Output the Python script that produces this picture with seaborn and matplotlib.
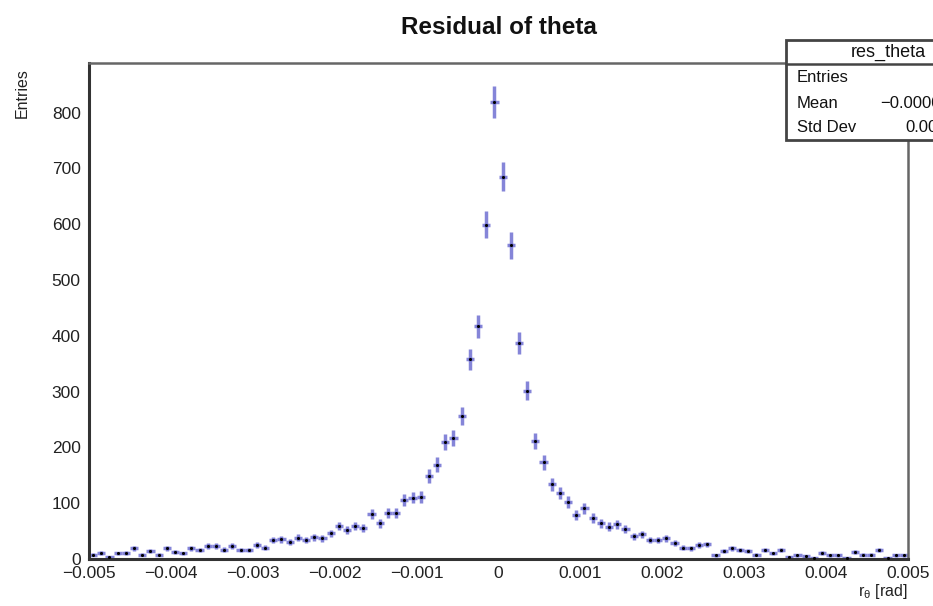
import numpy as np
import pandas as pd
import seaborn as sns
import matplotlib.pyplot as plt
from matplotlib.patches import Rectangle
from matplotlib.lines import Line2D
from matplotlib.ticker import MultipleLocator, FuncFormatter

# histogram "res_theta": 100 bins between -0.005 and 0.005 rad
x_min, x_max, n_bins = -0.005, 0.005, 100
counts = [
    8, 11, 4, 10, 11, 19, 8, 14, 8, 19,
    13, 10, 19, 16, 23, 23, 17, 23, 16, 16,
    25, 20, 34, 35, 31, 38, 34, 39, 37, 46,
    59, 52, 59, 55, 81, 64, 83, 83, 106, 110,
    111, 149, 169, 209, 217, 257, 358, 417, 599, 819,
    685, 562, 388, 302, 211, 173, 134, 118, 102, 79,
    91, 74, 64, 58, 62, 53, 41, 44, 34, 34,
    37, 28, 20, 19, 25, 26, 7, 14, 19, 16,
    14, 8, 16, 10, 16, 4, 7, 5, 2, 11,
    7, 7, 2, 13, 8, 8, 16, 2, 7, 7,
]
y_ticks = [0, 100, 200, 300, 400, 500, 600, 700, 800]
x_ticks = [-0.005, -0.004, -0.003, -0.002, -0.001, 0, 0.001, 0.002, 0.003, 0.004, 0.005]
stats_title = "res_theta"
stats_rows = ["Entries", "Mean", "Std Dev"]
stats_vals = ["", "\u22120.0000183", "0.000915"]

edges = np.linspace(x_min, x_max, n_bins + 1)
df = pd.DataFrame({
    "center": 0.5 * (edges[:-1] + edges[1:]),
    "entries": counts,
})
df["err"] = np.sqrt(df["entries"])
half_w = 0.5 * (x_max - x_min) / n_bins

sns.set_theme(style="white")
plt.rcParams["font.family"] = ["Liberation Sans", "DejaVu Sans"]
plt.rcParams["mathtext.fontset"] = "custom"
plt.rcParams["mathtext.rm"] = "Liberation Sans"
plt.rcParams["mathtext.it"] = "Liberation Sans"

fig = plt.figure(figsize=(9.33, 6.06), dpi=100)
ax = fig.add_axes([89 / 933, 47 / 606, 819 / 933, 496 / 606])

# error bars (sqrt(N) vertical, bin width horizontal)
ax.errorbar(df["center"], df["entries"], yerr=df["err"], xerr=half_w,
            fmt="none", ecolor="#5c5ccc", elinewidth=2.5, alpha=0.75, capsize=0, zorder=2)
sns.scatterplot(data=df, x="center", y="entries", ax=ax, color="black",
                s=5, linewidth=0, zorder=3)

ax.set_xlim(x_min, x_max)
ax.set_ylim(0, 889)
ax.set_xticks(x_ticks)
ax.set_yticks(y_ticks)
ax.xaxis.set_minor_locator(MultipleLocator(0.0002))
ax.yaxis.set_minor_locator(MultipleLocator(20))
ax.xaxis.set_major_formatter(FuncFormatter(
    lambda v, _: "0" if abs(v) < 1e-12 else f"{v:.3f}".replace("-", "\u2212")))

ax.tick_params(axis="y", which="major", direction="in", length=18, width=1.8,
               color="#555555", labelsize=12.5, pad=6, labelcolor="#222222")
ax.tick_params(axis="y", which="minor", direction="in", length=9, width=1.8, color="#555555")
ax.tick_params(axis="x", which="major", direction="in", length=10, width=1.8,
               color="#555555", labelsize=12.5, pad=5, labelcolor="#222222")
ax.tick_params(axis="x", which="minor", direction="in", length=4, width=1.8, color="#555555")

for side in ["left", "bottom"]:
    ax.spines[side].set_color("#333333")
    ax.spines[side].set_linewidth(2.2)
for side in ["top", "right"]:
    ax.spines[side].set_color("#666666")
    ax.spines[side].set_linewidth(1.8)

ax.set_xlabel(r"r$_{\theta}$ [rad]", fontsize=11.5, loc="right", color="#222222")
ax.xaxis.set_label_coords(1.0, -0.047)
ax.set_ylabel("Entries", fontsize=11.5, loc="top", color="#222222")
ax.yaxis.set_label_coords(-0.072, 0.99)
ax.set_title("Residual of theta", fontsize=17.5, fontweight="bold", pad=21, color="#111111")

# ROOT stats box, partly beyond the right edge of the canvas
bx0, by0, bx1, by1, hy = 786, 40, 990, 140, 64
fig.patches.append(Rectangle((bx0 / 933, 1 - by1 / 606), (bx1 - bx0) / 933, (by1 - by0) / 606,
                             transform=fig.transFigure, facecolor="white",
                             edgecolor="#444444", linewidth=2, zorder=5))
fig.lines.append(Line2D([bx0 / 933, bx1 / 933], [1 - hy / 606, 1 - hy / 606],
                        transform=fig.transFigure, color="#444444", linewidth=1.8, zorder=6))
fig.text((bx0 + bx1) / 2 / 933, 1 - 52 / 606, stats_title, ha="center", va="center",
         fontsize=13, color="#111111", zorder=7)
row_y = [78, 103, 127]
val_x = [960, 880, 905]
for name, val, yy, xx in zip(stats_rows, stats_vals, row_y, val_x):
    fig.text(797 / 933, 1 - yy / 606, name, ha="left", va="center", fontsize=12,
             color="#111111", zorder=7)
    if val:
        fig.text(xx / 933, 1 - yy / 606, val, ha="left", va="center", fontsize=12,
                 color="#111111", zorder=7)

fig.savefig("out.png", dpi=100)
